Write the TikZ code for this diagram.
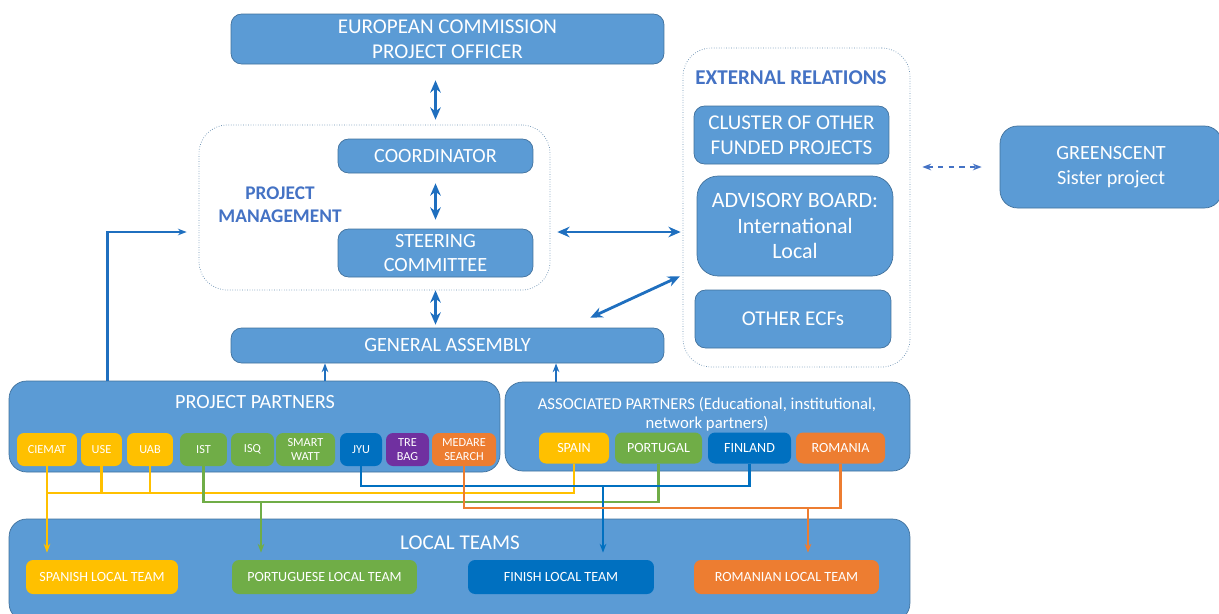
\documentclass[tikz,border=0pt]{standalone}
\usepackage{fontspec}
\setmainfont{Carlito}
\usetikzlibrary{arrows.meta}
\definecolor{boxblue}{HTML}{5B9BD5}
\definecolor{boxline}{HTML}{41719C}
\definecolor{arrowblue}{HTML}{1F6FBF}
\definecolor{titleblue}{HTML}{4472C4}
\definecolor{ylw}{HTML}{FFC000}
\definecolor{grn}{HTML}{70AD47}
\definecolor{dblue}{HTML}{0070C0}
\definecolor{purp}{HTML}{7030A0}
\definecolor{orng}{HTML}{ED7D31}
\newcommand{\fs}[2]{\fontsize{#1}{#2}\selectfont}
\tikzset{
    box/.style={draw=boxline, fill=boxblue, text=white, rounded corners=6,
        align=center, inner sep=0, font=\fs{11.5}{14}},
    group/.style={draw=boxline!80, densely dotted, rounded corners=16},
    title/.style={text=titleblue, font=\bfseries\fs{10.5}{13}, align=center},
    tag/.style={fill=#1, text=white, rounded corners=4, align=center,
        inner sep=0, font=\fs{7}{8}},
    dbl/.style={line width=2.2, arrowblue, {Stealth[length=7pt,width=6pt]}-{Stealth[length=7pt,width=6pt]}},
    up/.style={line width=1.6, arrowblue, -{Stealth[length=5pt]}},
    wire/.style={line width=1.3, #1},
    drop/.style={line width=1.3, #1, -{Stealth[length=5pt]}, shorten >=4},
}
\begin{document}
\begin{tikzpicture}[x=0.02cm, y=-0.02cm]
    \useasboundingbox (0,0) rectangle (1219,613);
    % management side
    \node [box, font=\fs{12}{14.5}, minimum width=8.66cm, minimum height=1cm] (ec)
        at (447.5,39) {EUROPEAN COMMISSION\\PROJECT OFFICER};
    \node [group, minimum width=7.02cm, minimum height=3.3cm] (pm) at (374.5,207.5) {};
    \node [title, font=\bfseries\fs{11}{13}] (pmtitle) at (280,205) {PROJECT\\MANAGEMENT};
    \node [box, minimum width=3.9cm, minimum height=.68cm] (coord) at (435.5,156) {COORDINATOR};
    \node [box, minimum width=3.9cm, minimum height=.96cm] (steer)
        at (435.5,253) {STEERING\\COMMITTEE};
    \node [box, minimum width=8.66cm, minimum height=.7cm] (ga) at (447.5,345.5) {GENERAL ASSEMBLY};
    % external side
    \node [group, minimum width=4.54cm, minimum height=6.38cm] (ext) at (796.5,207.5) {};
    \node [title, font=\bfseries\fs{12}{13}] (exttitle) at (791,78) {EXTERNAL RELATIONS};
    \node [box, font=\fs{12}{14}, minimum width=3.9cm, minimum height=1.16cm] (cluster)
        at (791.5,135) {CLUSTER OF OTHER\\FUNDED PROJECTS};
    \node [box, rounded corners=12, font=\fs{12.5}{14.7}, minimum width=3.92cm,
        minimum height=2cm] (advisory) at (795,226) {ADVISORY BOARD:\\International\\Local};
    \node [box, font=\fs{12}{14}, minimum width=3.92cm, minimum height=1.16cm] (ecfs)
        at (793,319) {OTHER ECFs};
    \node [box, rounded corners=10, minimum width=4.44cm, minimum height=1.64cm] (green)
        at (1111,167) {GREENSCENT\\Sister project};
    % partners
    \node [box, rounded corners=10, minimum width=9.82cm, minimum height=1.82cm] (pp)
        at (254.5,426.5) {};
    \node [text=white, font=\fs{11.5}{14}] (pptitle) at (255,402) {PROJECT PARTNERS};
    \node [box, rounded corners=10, minimum width=8.1cm, minimum height=1.78cm] (ap)
        at (707.5,426.5) {};
    \node [text=white, align=center, font=\fs{9.5}{11}] (aptitle) at (707,414)
        {ASSOCIATED PARTNERS (Educational, institutional,\\network partners)};
    \foreach \n/\x/\w/\c/\t in {ciemat/47/1.2/ylw/CIEMAT, use/101.5/.82/ylw/USE,
            uab/150/.92/ylw/UAB, ist/203.5/.94/grn/IST, isq/252.5/.86/grn/ISQ,
            smart/305.5/1.18/grn/{SMART\\WATT}, jyu/361/.84/dblue/JYU,
            trebag/407.5/.86/purp/{TRE\\BAG}, medare/464/1.28/orng/{MEDARE\\SEARCH}}
        \node [tag=\c, minimum width=\w cm, minimum height=.66cm] (\n) at (\x,449.5) {\t};
    \foreach \n/\x/\w/\c/\t in {spain/574/1.4/ylw/SPAIN, portugal/658.5/1.74/grn/PORTUGAL,
            finland/749.5/1.66/dblue/FINLAND, romania/840.5/1.78/orng/ROMANIA}
        \node [tag=\c, font=\fs{8}{9}, minimum width=\w cm, minimum height=.62cm] (\n)
            at (\x,448) {\t};
    % local teams
    \node [box, rounded corners=10, minimum width=18.02cm, minimum height=2.04cm] (lt)
        at (459.5,570) {};
    \node [text=white, font=\fs{12}{14}] (lttitle) at (460,543) {LOCAL TEAMS};
    \foreach \n/\x/\c/\w/\t in {spanish/102/ylw/3.04/SPANISH LOCAL TEAM,
            portuguese/324.5/grn/3.7/PORTUGUESE LOCAL TEAM,
            finish/561/dblue/3.72/FINISH LOCAL TEAM,
            romanian/786.5/orng/3.7/ROMANIAN LOCAL TEAM}
        \node [tag=\c, font=\fs{8}{9}, minimum width=\w cm, minimum height=.68cm] (\n)
            at (\x,577) {\t};
    % arrows between the levels
    \draw [dbl, shorten <=.32cm, shorten >=.1cm] (ec.south -| coord) -- (coord |- pm.north);
    \draw [dbl, shorten <=.2cm, shorten >=.18cm] (coord.south) -- (steer.north);
    \draw [dbl, shorten >=.06cm] (pm.south -| steer) -- (ga.north -| steer);
    \draw [dbl, line width=1.6, shorten <=.14cm, shorten >=.04cm]
        ([yshift=-.49cm]pm.east) -- ([yshift=-.49cm]ext.west);
    \draw [dbl, line width=1.6, shorten >=.06cm]
        ([shift={(-74,-10)}]ga.north east) -- ([yshift=-1.35cm]ext.west);
    \draw [titleblue, line width=1.2, dashed, {Stealth[length=5pt]}-{Stealth[length=5pt]},
        shorten <=.24cm, shorten >=.36cm] (ext.east |- green.west) -- (green.west);
    \draw [up, shorten >=.24cm] ([xshift=1.98cm]pp.north west) |- ([yshift=-.49cm]pm.west);
    \draw [up] ([xshift=1.41cm]pp.north) -- ([xshift=1.41cm]pp.north |- ga.south);
    \draw [up] ([xshift=-3.03cm]ap.north) -- ([xshift=-3.03cm]ap.north |- ga.south);
    % wires from partners to local teams
    \coordinate (ybus) at (0,493);
    \coordinate (gdrop) at (261,502);
    \coordinate (bdrop) at (603,486);
    \coordinate (odrop) at (808,508);
    \draw [wire=ylw] (ciemat.south) |- (spain.south |- ybus) -- (spain.south)
        (use.south) -- (use.south |- ybus) (uab.south) -- (uab.south |- ybus);
    \draw [drop=ylw] (ciemat.south |- ybus) -- (ciemat.south |- spanish.north);
    \draw [wire=grn] (ist.south) |- (portugal.south |- gdrop) -- (portugal.south);
    \draw [drop=grn] (gdrop) -- (gdrop |- portuguese.north);
    \draw [wire=dblue] (jyu.south) |- (finland.south |- bdrop) -- (finland.south);
    \draw [drop=dblue] (bdrop) -- (bdrop |- finish.north);
    \draw [wire=orng] (medare.south) |- (romania.south |- odrop) -- (romania.south);
    \draw [drop=orng] (odrop) -- (odrop |- romanian.north);
\end{tikzpicture}
\end{document}
